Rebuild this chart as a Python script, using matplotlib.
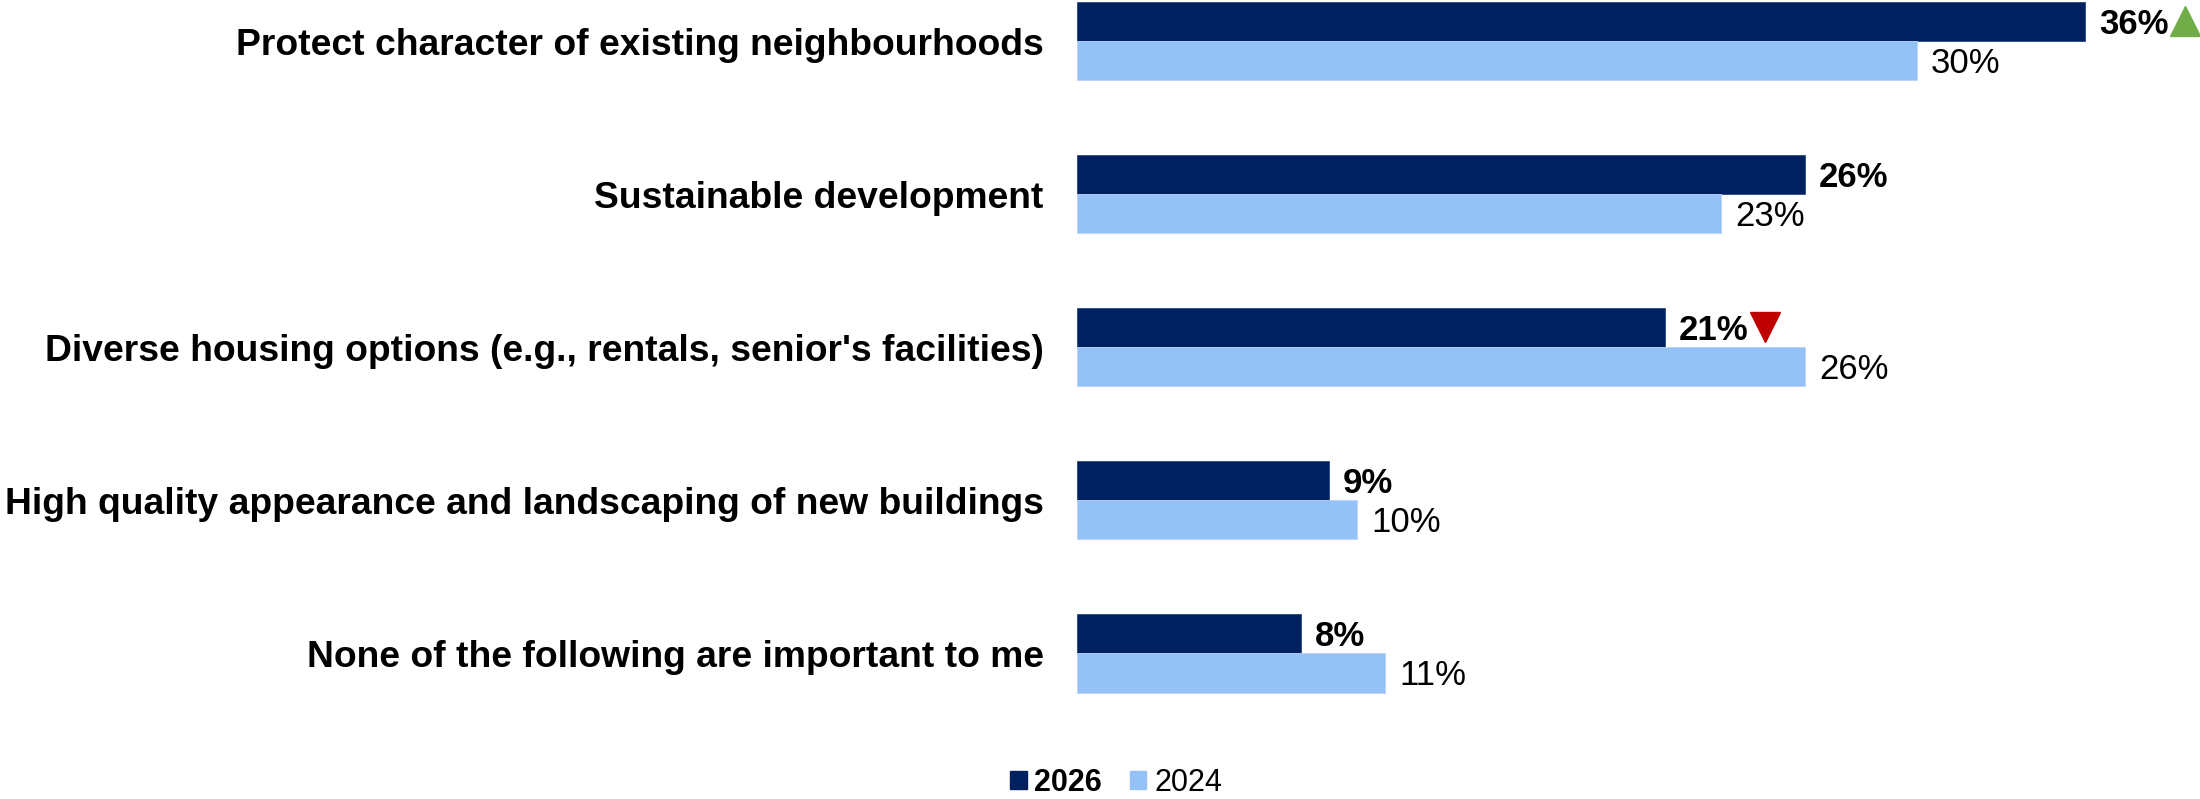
import matplotlib
matplotlib.use("Agg")
import matplotlib.pyplot as plt
from matplotlib.transforms import offset_copy
from matplotlib.patches import Patch
import numpy as np

plt.rcParams['font.family'] = ['Liberation Sans', 'DejaVu Sans']

categories = [
    "Protect character of existing neighbourhoods",
    "Sustainable development",
    "Diverse housing options (e.g., rentals, senior's facilities)",
    "High quality appearance and landscaping of new buildings",
    "None of the following are important to me",
]
vals_2026 = [36, 26, 21, 9, 8]
vals_2024 = [30, 23, 26, 10, 11]
# change flags for 2026 vs 2024: 1 up, -1 down, 0 none
changes = [1, 0, -1, 0, 0]

navy = "#002060"
light = "#94C1F6"

fig = plt.figure(figsize=(22, 7.99), dpi=100)
ax = fig.add_axes([1077 / 2200, 99 / 799, 1064 / 2200, 700 / 799])

y = np.arange(len(categories))
h = 0.258
ax.barh(y - h / 2, vals_2026, height=h, color=navy, edgecolor="#2a4a80", linewidth=0.6)
ax.barh(y + h / 2, vals_2024, height=h, color=light, edgecolor="#b8d4f8", linewidth=0.6)

ax.set_xlim(0, 38)
ax.set_ylim(4.307, -0.268)

ax.set_yticks(y)
ax.set_yticklabels(categories, fontsize=26.8, fontweight="bold")
ax.tick_params(axis="y", length=0, pad=24)
ax.set_xticks([])
for s in ax.spines.values():
    s.set_visible(False)

for i in range(len(categories)):
    ax.annotate(f"{vals_2026[i]}%", (vals_2026[i], y[i] - h / 2),
                xytext=(10, -2), textcoords="offset points",
                ha="left", va="center", fontsize=25, fontweight="bold")
    ax.annotate(f"{vals_2024[i]}%", (vals_2024[i], y[i] + h / 2),
                xytext=(10, -2), textcoords="offset points",
                ha="left", va="center", fontsize=25)
    if changes[i] != 0:
        tr = offset_copy(ax.transData, fig=fig, x=72, y=0, units="points")
        if changes[i] > 0:
            ax.plot(vals_2026[i], y[i] - h / 2, marker="^", markersize=22,
                    color="#70AD47", transform=tr, clip_on=False)
        else:
            ax.plot(vals_2026[i], y[i] - h / 2, marker="v", markersize=22,
                    color="#C00000", transform=tr, clip_on=False)

handles = [Patch(color=navy, label="2026"), Patch(color=light, label="2024")]
leg = fig.legend(handles=handles, loc="center", bbox_to_anchor=(1116 / 2200, 0.02),
                 ncol=2, frameon=False, fontsize=22, handlelength=0.55,
                 handleheight=0.55, handletextpad=0.25, columnspacing=0.9)
leg.get_texts()[0].set_fontweight("bold")

fig.savefig("out.png", dpi=100)
